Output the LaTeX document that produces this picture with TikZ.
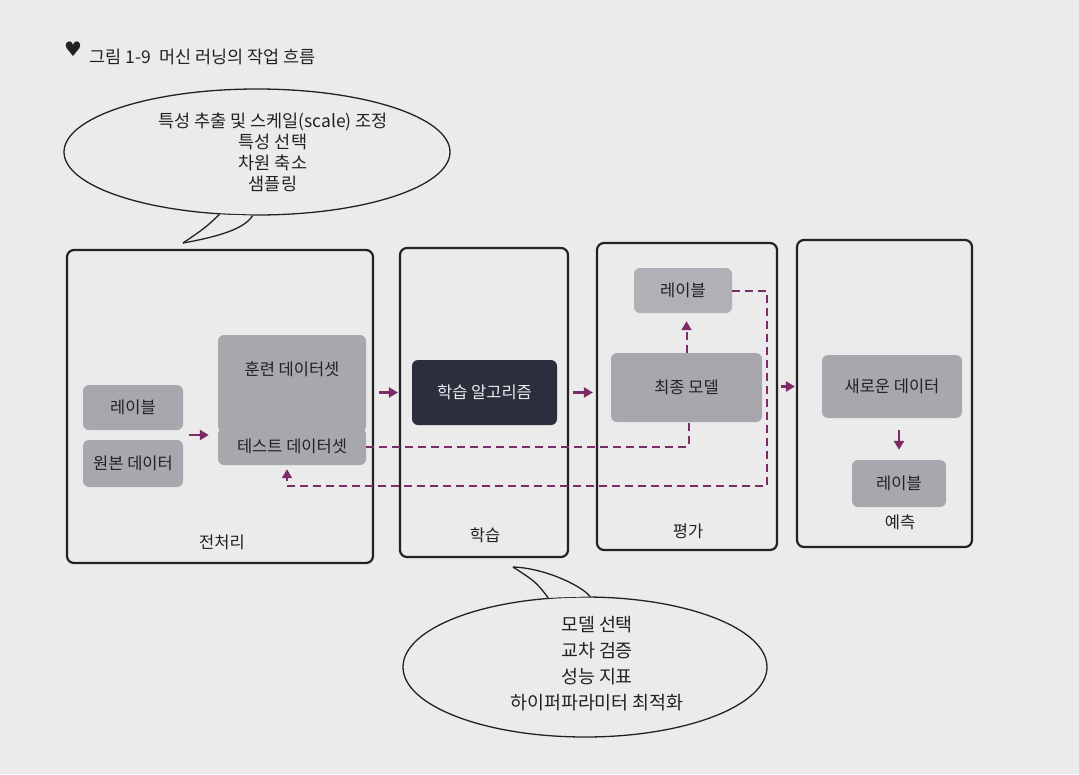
\documentclass[tikz,border=0pt]{standalone}
\usepackage{fontspec}
\setmainfont{Noto Sans CJK KR}
\newfontfamily\symfont{DejaVu Sans}
\usetikzlibrary{arrows.meta,shapes.geometric,calc}
\definecolor{bg}{HTML}{EBEBEB}
\definecolor{boxg}{HTML}{A9A7AE}
\definecolor{boxl}{HTML}{B2B0B6}
\definecolor{dark}{HTML}{2C2D3D}
\definecolor{purp}{HTML}{7A2B68}
\definecolor{ink}{HTML}{222222}
\begin{document}
\begin{tikzpicture}[x=1pt,y=-1pt,
  panel/.style={draw=ink, line width=2.2pt, rounded corners=7pt, inner sep=0pt},
  gbox/.style={fill=boxg, rounded corners=6pt, inner sep=0pt, text=ink, font=\fontsize{16.5}{20}\selectfont},
  dbox/.style={fill=dark, rounded corners=6pt, inner sep=0pt, text=bg, font=\fontsize{16.5}{20}\selectfont},
  lbl/.style={text=ink, font=\fontsize{16.5}{20}\selectfont},
  bubble/.style={ellipse, draw=ink, line width=1.3pt, fill=bg, inner sep=0pt},
  btext/.style={align=center, text=ink},
  arr/.style={draw=purp, line width=2.6pt, -{Triangle[length=9pt,width=10pt]}},
  dashline/.style={draw=purp, line width=2pt, dash pattern=on 8pt off 5pt},
  dasharr/.style={dashline, -{Triangle[length=9pt,width=10pt]}},
  tail/.style={draw=ink, line width=1.3pt}
]
\fill[bg] (0,0) rectangle (1079,774);
\useasboundingbox (0,0) rectangle (1079,774);

% title
\node[text=ink, font=\symfont\fontsize{20}{22}\selectfont] (heart) at (73,49) {♥};
\node[anchor=west, text=ink, font=\fontsize{17.5}{21}\selectfont] (title) at (86,57) {그림 1-9\hspace{0.45em}머신 러닝의 작업 흐름};

% top bubble
\node[bubble, minimum width=386pt, minimum height=126pt] (bub1) at (257,152) {};
\coordinate (tip1) at (183,243);
\fill[bg] (bub1.-121) .. controls (205,228) .. (tip1) .. controls (222,236) and (245,228) .. (bub1.-94) -- cycle;
\draw[tail] (bub1.-121) .. controls (205,228) .. (tip1);
\draw[tail] (tip1) .. controls (222,236) and (245,228) .. (bub1.-94);
\node[btext, font=\fontsize{17.5}{21}\selectfont] (bt1) at (273,152) {특성 추출 및 스케일(scale) 조정\\특성 선택\\차원 축소\\샘플링};

% panels
\node[panel, minimum width=306pt, minimum height=313pt] (p1) at (220,406.5) {};
\node[panel, minimum width=168pt, minimum height=309pt] (p2) at (484,402.5) {};
\node[panel, minimum width=180pt, minimum height=307pt] (p3) at (687,396.5) {};
\node[panel, minimum width=175pt, minimum height=307pt] (p4) at (884.5,393.5) {};
\node[lbl] (p1t) at (222,542) {전처리};
\node[lbl] (p2t) at (485,535) {학습};
\node[lbl] (p3t) at (688,531) {평가};
\node[lbl] (p4t) at (900,522) {예측};

% preprocessing
\node[gbox, minimum width=100pt, minimum height=45pt] (lab1) at (133,407.5) {레이블};
\node[gbox, minimum width=100pt, minimum height=47pt] (orig) at (133,463.5) {원본 데이터};
\node[gbox, minimum width=148pt, minimum height=97pt, label={[lbl, yshift=14pt]center:훈련 데이터셋}] (train) at (292,383.5) {};
\node[gbox, minimum width=148pt, minimum height=37pt] (test) at (292,446.5) {테스트 데이터셋};

% learning
\node[dbox, minimum width=145pt, minimum height=65pt] (algo) at (484.5,392.5) {학습 알고리즘};

% evaluation
\node[gbox, minimum width=151pt, minimum height=69pt] (model) at (686.5,387.5) {최종 모델};
\node[gbox, fill=boxl, minimum width=98pt, minimum height=45pt] (lab2) at (683,290.5) {레이블};

% prediction
\node[gbox, minimum width=140pt, minimum height=63pt] (new) at (892,386.5) {새로운 데이터};
\node[gbox, minimum width=94pt, minimum height=47pt] (lab3) at (899,483.5) {레이블};

% solid arrows
\coordinate (g) at ($(lab1.south east)!0.5!(orig.north east)$);
\draw[arr] ([xshift=6pt]g) -- ([xshift=-9pt]train.west |- g);
\draw[arr] ([xshift=5pt]p1.east |- algo.west) -- ([xshift=-1pt]p2.west |- algo.west);
\draw[arr] ([xshift=4pt]p2.east |- algo.east) -- ([xshift=-3pt]p3.west |- algo.east);
\draw[arr] ([xshift=3pt]p3.east |- new.west) -- ([xshift=-1pt]p4.west |- new.west);
\draw[arr] ([yshift=-12pt]lab3.north |- new.south) -- ([yshift=10pt]lab3.north);

% dashed connectors
\draw[dasharr] (model.north) -- ([yshift=-8pt]model.north |- lab2.south);
\draw[dashline] (test.east) -| ([xshift=2pt]model.south);
\coordinate (d1) at (767,486);
\draw[dasharr] (lab2.east) -| (d1) -| ([xshift=-5pt,yshift=-4pt]test.south);

% bottom bubble
\node[bubble, minimum width=364pt, minimum height=140pt] (bub2) at (585,667) {};
\coordinate (tip2) at (513,567);
\fill[bg] (bub2.118) .. controls (536,582) .. (tip2) .. controls (545,568) and (582,586) .. (bub2.86) -- cycle;
\draw[tail] (bub2.118) .. controls (536,582) .. (tip2);
\draw[tail] (tip2) .. controls (545,568) and (582,586) .. (bub2.86);
\node[btext, font=\fontsize{18.4}{26}\selectfont] (bt2) at (597,664) {모델 선택\\교차 검증\\성능 지표\\하이퍼파라미터 최적화};
\end{tikzpicture}
\end{document}
